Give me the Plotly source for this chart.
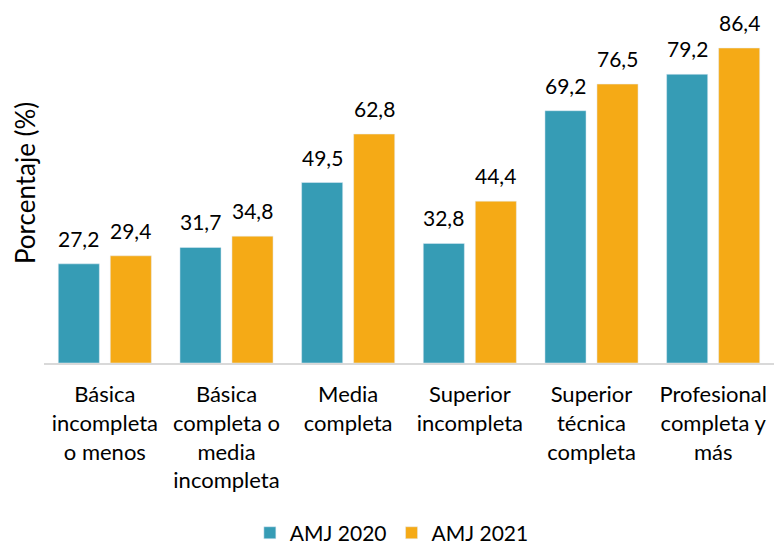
import plotly.graph_objects as go

# Data
categories = [
    "Básica<br>incompleta<br>o menos",
    "Básica<br>completa o<br>media<br>incompleta",
    "Media<br>completa",
    "Superior<br>incompleta",
    "Superior<br>técnica<br>completa",
    "Profesional<br>completa y<br>más",
]
amj_2020 = [27.2, 31.7, 49.5, 32.8, 69.2, 79.2]
amj_2021 = [29.4, 34.8, 62.8, 44.4, 76.5, 86.4]

TEAL = "#369CB5"
ORANGE = "#F5AA16"
FONT = "Lato, Open Sans, sans-serif"


def fmt(v):
    return f"{v:.1f}".replace(".", ",")


fig = go.Figure()
series = [("AMJ 2020", amj_2020, TEAL, -26), ("AMJ 2021", amj_2021, ORANGE, 26)]
for name, vals, col, dx in series:
    fig.add_trace(go.Bar(x=categories, y=vals, name=name, marker_color=col))
    # value labels, lifted a bit above the bars
    for cat, v in zip(categories, vals):
        fig.add_annotation(
            x=cat, y=v, text=fmt(v), showarrow=False,
            xanchor="center", yanchor="bottom", xshift=dx, yshift=11,
            font=dict(size=21, color="#000000"),
        )

# y-axis title as annotation so it doesn't push the margin
fig.add_annotation(
    text="Porcentaje (%)", textangle=-90,
    xref="paper", yref="paper", x=-0.026, y=0.514,
    xanchor="center", yanchor="middle", showarrow=False,
    font=dict(size=26, color="#000000"),
)

fig.update_layout(
    width=782, height=547,
    paper_bgcolor="white", plot_bgcolor="white",
    font=dict(family=FONT, size=22, color="#000000"),
    barmode="group", bargap=0.145, bargroupgap=0.21,
    margin=dict(l=36, r=16, t=5, b=192, autoexpand=False),
    showlegend=True,
    legend=dict(
        orientation="h", x=0.282, xanchor="left", y=-0.486, yanchor="middle",
        font=dict(size=21), itemwidth=30,
    ),
    xaxis=dict(
        showline=True, linecolor="#D9D9D9", linewidth=2,
        ticks="", tickfont=dict(size=22), automargin=False,
        ticklabelstandoff=11,
    ),
    yaxis=dict(
        range=[0, 96], showgrid=False, showticklabels=False,
        zeroline=False, automargin=False,
    ),
)

fig.write_html("out.html")
